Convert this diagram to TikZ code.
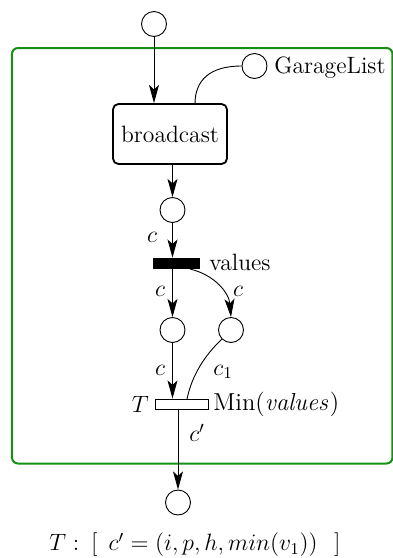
\documentclass[tikz,border=0pt]{standalone}
\usepackage{fix-cm}
\usetikzlibrary{arrows.meta}
\definecolor{boxgreen}{RGB}{20,145,20}
\begin{document}
\begin{tikzpicture}[x=0.55pt,y=-0.55pt,
  every node/.style={font=\fontsize{13}{15}\selectfont},
  place/.style={circle,draw,line width=0.5pt,minimum size=25*0.55pt,inner sep=0pt},
  arc/.style={-{Stealth[length=10pt,width=5.5pt,inset=2.5pt]},line width=0.5pt},
  plain/.style={line width=0.5pt},
  lbl/.style={inner sep=1pt}]
\useasboundingbox (0,0) rectangle (393,558);
\draw[boxgreen,line width=1.1pt,rounded corners=6*0.55pt] (12,48) rectangle (392.5,463.5);

\node[place] (p0) at (154,24) {};
\node[place] (pg) at (254.5,66) {};
\node[anchor=west,inner sep=0pt] (lg) at (274,68) {GarageList};
\node[draw,line width=1pt,rounded corners=3pt,minimum width=114*0.55pt,minimum height=60*0.55pt,inner sep=0pt] (bc) at (170,134) {broadcast};
\node[place] (p1) at (172.5,210) {};
\node[fill=black,minimum width=47*0.55pt,minimum height=11*0.55pt,inner sep=0pt] (tv) at (176.5,263.5) {};
\node[anchor=west,inner sep=0pt] (lv) at (209,262) {values};
\node[place] (p2) at (172.5,330) {};
\node[place] (p3) at (231,330) {};
\node[draw,fill=white,line width=0.5pt,minimum width=53*0.55pt,minimum height=10*0.55pt,inner sep=0pt] (tt) at (181.5,404) {};
\node[anchor=east,inner sep=0pt] (lT) at (149,404) {$T$};
\node[anchor=west,inner sep=0pt,font=\fontsize{13.5}{15}\selectfont] (lm) at (213,404) {Min$(\mathit{values})$};
\node[place] (p4) at (178,502.5) {};

\coordinate (bctop) at (195,104);
\coordinate (tvr) at (190,269);
\coordinate (ttr) at (187,399);

\draw[arc] (p0) -- (p0 |- bc.north);
\draw[plain] (pg.west) .. controls (210,66) and (195,80) .. (bctop);
\draw[arc] (p1 |- bc.south) -- (p1.north);
\draw[arc] (p1.south) -- (p1 |- tv.north);
\node[lbl] (c1) at (152,237) {$c$};
\node[lbl] (c2) at (160,291) {$c$};
\draw[arc] (p2 |- tv.south) -- (p2.north);
\draw[arc] (tvr) .. controls (215,275) and (229,293) .. (p3.north);
\node[lbl] (c3) at (238,291) {$c$};
\draw[arc] (p2.south) -- (p2 |- tt.north);
\node[lbl] (c4) at (160,370) {$c$};
\draw[plain] (p3.south west) .. controls (205,355) and (192,375) .. (ttr);
\node[lbl] (c5) at (223,372) {$c_1$};
\draw[arc] (p4 |- tt.south) -- (p4.north);
\node[lbl] (c6) at (197,433) {$c'$};

\node[inner sep=0pt] (form) at (195,545) {$T:\hspace{3pt}[\hspace{6pt}c'=(i,p,h,min(v_1))\hspace{9pt}]$};
\end{tikzpicture}
\end{document}
